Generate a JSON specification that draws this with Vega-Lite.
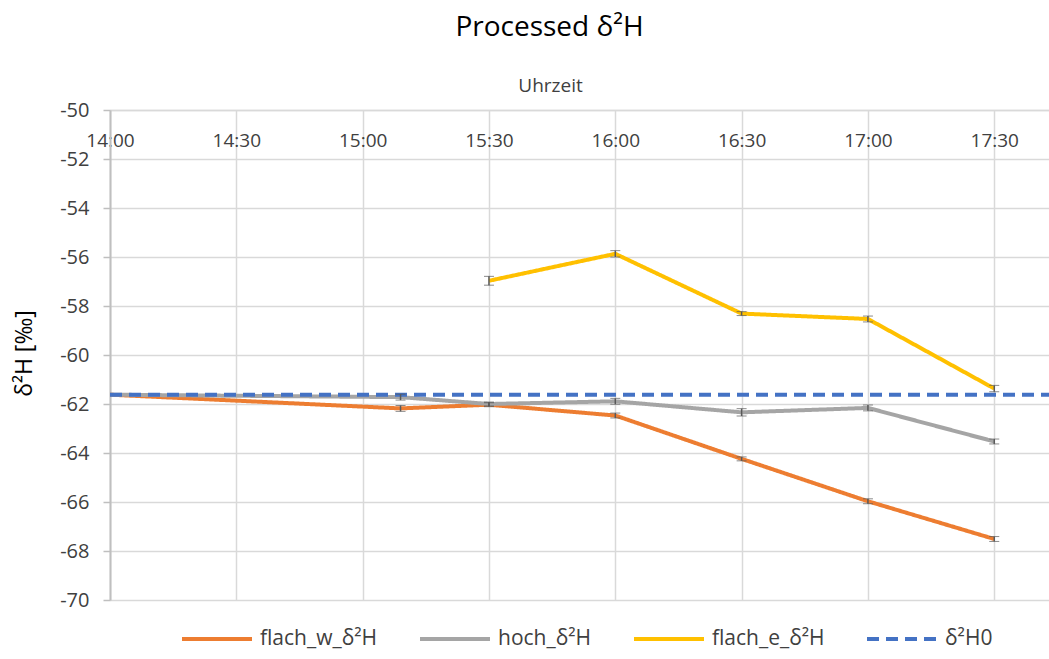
{
  "$schema": "https://vega.github.io/schema/vega-lite/v6.json",
  "width": 939,
  "height": 490,
  "autosize": "none",
  "padding": {"left": 110, "top": 110, "right": 0, "bottom": 59},
  "background": "white",
  "title": {"text": "Processed δ²H", "fontSize": 28, "font": "Open Sans", "fontWeight": "normal", "color": "#000000", "anchor": "middle", "dx": -30, "offset": 34},
  "config": {
    "view": {"stroke": null},
    "font": "Open Sans"
  },
  "datasets": {
    "pts": [
      {"series": "flach_w_δ²H", "t": "2024-01-01T14:00:00", "v": -61.62, "e": 0},
      {"series": "flach_w_δ²H", "t": "2024-01-01T15:09:00", "v": -62.18, "e": 0.12},
      {"series": "flach_w_δ²H", "t": "2024-01-01T15:30:00", "v": -62.03, "e": 0.08},
      {"series": "flach_w_δ²H", "t": "2024-01-01T16:00:00", "v": -62.47, "e": 0.1},
      {"series": "flach_w_δ²H", "t": "2024-01-01T16:30:00", "v": -64.24, "e": 0.08},
      {"series": "flach_w_δ²H", "t": "2024-01-01T17:00:00", "v": -65.97, "e": 0.1},
      {"series": "flach_w_δ²H", "t": "2024-01-01T17:30:00", "v": -67.51, "e": 0.1},
      {"series": "hoch_δ²H", "t": "2024-01-01T14:00:00", "v": -61.62, "e": 0},
      {"series": "hoch_δ²H", "t": "2024-01-01T15:09:00", "v": -61.72, "e": 0.12},
      {"series": "hoch_δ²H", "t": "2024-01-01T15:30:00", "v": -62.0, "e": 0.08},
      {"series": "hoch_δ²H", "t": "2024-01-01T16:00:00", "v": -61.89, "e": 0.12},
      {"series": "hoch_δ²H", "t": "2024-01-01T16:30:00", "v": -62.34, "e": 0.15},
      {"series": "hoch_δ²H", "t": "2024-01-01T17:00:00", "v": -62.16, "e": 0.12},
      {"series": "hoch_δ²H", "t": "2024-01-01T17:30:00", "v": -63.53, "e": 0.1},
      {"series": "flach_e_δ²H", "t": "2024-01-01T15:30:00", "v": -56.97, "e": 0.18},
      {"series": "flach_e_δ²H", "t": "2024-01-01T16:00:00", "v": -55.87, "e": 0.13},
      {"series": "flach_e_δ²H", "t": "2024-01-01T16:30:00", "v": -58.31, "e": 0.08},
      {"series": "flach_e_δ²H", "t": "2024-01-01T17:00:00", "v": -58.53, "e": 0.12},
      {"series": "flach_e_δ²H", "t": "2024-01-01T17:30:00", "v": -61.37, "e": 0.13},
      {"series": "δ²H0", "t": "2024-01-01T14:00:00", "v": -61.62, "e": 0},
      {"series": "δ²H0", "t": "2024-01-01T17:43:00", "v": -61.62, "e": 0}
    ]
  },
  "data": {"name": "pts"},
  "layer": [
    {
      "mark": {"type": "line", "strokeWidth": 4, "clip": true},
      "encoding": {
        "x": {
          "field": "t", "type": "temporal",
          "scale": {"domain": [{"year": 2024, "month": 1, "date": 1, "hours": 14, "minutes": 0}, {"year": 2024, "month": 1, "date": 1, "hours": 17, "minutes": 43}]},
          "axis": {
            "orient": "top",
            "title": "Uhrzeit",
            "titleFont": "Open Sans", "titleFontSize": 19, "titleFontWeight": "normal", "titleColor": "#404040",
            "titleX": 440, "titleY": -25, "titleAlign": "center", "titleBaseline": "middle", "titleAnchor": null,
            "format": "%H:%M",
            "values": [
              {"year": 2024, "month": 1, "date": 1, "hours": 14, "minutes": 0},
              {"year": 2024, "month": 1, "date": 1, "hours": 14, "minutes": 30},
              {"year": 2024, "month": 1, "date": 1, "hours": 15, "minutes": 0},
              {"year": 2024, "month": 1, "date": 1, "hours": 15, "minutes": 30},
              {"year": 2024, "month": 1, "date": 1, "hours": 16, "minutes": 0},
              {"year": 2024, "month": 1, "date": 1, "hours": 16, "minutes": 30},
              {"year": 2024, "month": 1, "date": 1, "hours": 17, "minutes": 0},
              {"year": 2024, "month": 1, "date": 1, "hours": 17, "minutes": 30}
            ],
            "ticks": false, "tickSize": 0,
            "labelBaseline": "middle", "labelAlign": "center", "labelPadding": -30,
            "labelFont": "Open Sans", "labelFontSize": 19, "labelColor": "#404040",
            "labelOverlap": false, "labelBound": false, "labelFlush": false,
            "domain": true, "domainColor": "#d9d9d9", "domainWidth": 1.5,
            "grid": true, "gridColor": "#d9d9d9", "gridWidth": 1.5
          }
        },
        "y": {
          "field": "v", "type": "quantitative",
          "title": "δ²H [‰]",
          "scale": {"domain": [-70, -50], "nice": false, "zero": false},
          "axis": {
            "title": "δ²H [‰]",
            "titleFont": "Open Sans", "titleFontSize": 23, "titleFontWeight": "normal", "titleColor": "#000000",
            "titleX": -86, "titleY": 243, "titleAngle": 270, "titleAlign": "center", "titleBaseline": "middle", "titleAnchor": null,
            "values": [-70, -68, -66, -64, -62, -60, -58, -56, -54, -52, -50],
            "labelExpr": "replace(datum.label, '−', '-')",
            "tickSize": 7, "tickColor": "#bfbfbf", "tickWidth": 1.5,
            "labelPadding": 14, "labelFont": "Open Sans", "labelFontSize": 20, "labelColor": "#404040",
            "labelOverlap": false, "labelBound": false, "labelFlush": false,
            "domain": true, "domainColor": "#bfbfbf", "domainWidth": 2,
            "grid": true, "gridColor": "#d9d9d9", "gridWidth": 1.5
          }
        },
        "color": {
          "field": "series", "type": "nominal",
          "scale": {"domain": ["flach_w_δ²H", "hoch_δ²H", "flach_e_δ²H", "δ²H0"], "range": ["#ED7D31", "#A5A5A5", "#FFC000", "#4472C4"]},
          "legend": {
            "orient": "none", "legendX": 70, "legendY": 492, "direction": "horizontal",
            "title": null, "symbolType": "stroke", "symbolSize": 4900, "symbolStrokeWidth": 4,
            "labelFont": "Open Sans", "labelFontSize": 21, "labelColor": "#404040", "labelOffset": 6,
            "columnPadding": 34, "labelLimit": 300
          }
        },
        "strokeDash": {
          "field": "series", "type": "nominal",
          "scale": {"domain": ["flach_w_δ²H", "hoch_δ²H", "flach_e_δ²H", "δ²H0"], "range": [[1, 0], [1, 0], [1, 0], [12, 7]]},
          "legend": null
        },
        "order": {"field": "t", "type": "temporal"}
      }
    },
    {
      "transform": [{"filter": "datum.e > 0"}],
      "mark": {"type": "errorbar", "ticks": {"size": 10, "color": "#595959", "strokeWidth": 2}, "rule": {"color": "#595959", "strokeWidth": 1.5}},
      "encoding": {
        "x": {"field": "t", "type": "temporal"},
        "y": {"field": "v", "type": "quantitative", "title": "δ²H [‰]"},
        "yError": {"field": "e"}
      }
    }
  ]
}
